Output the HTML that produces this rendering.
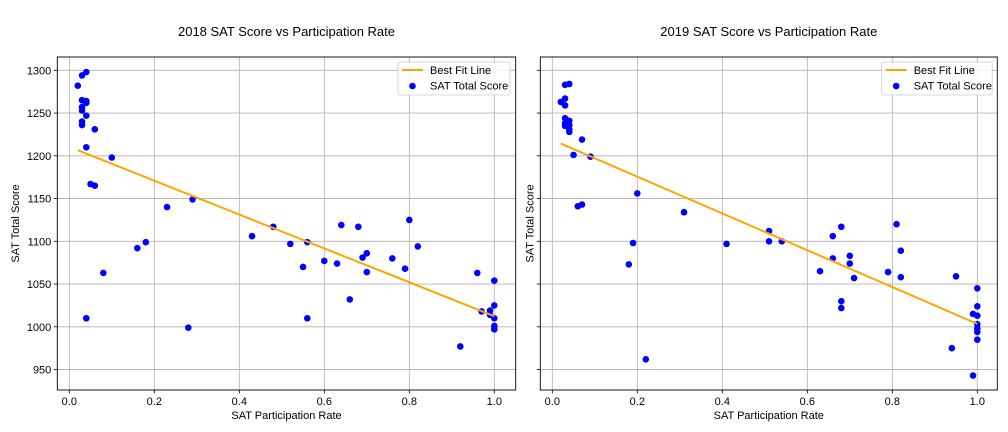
<!DOCTYPE html>
<html><head><meta charset="utf-8"><style>
html,body{margin:0;padding:0;background:#fff;}
svg{display:block;font-family:"Liberation Sans","DejaVu Sans",sans-serif;}
</style></head><body>
<svg id="chart" width="1008" height="432" viewBox="0 0 1008 432" xmlns="http://www.w3.org/2000/svg"></svg>
<script>
const rates2018 = [0.04,0.03,0.02,0.03,0.04,0.04,0.03,0.03,0.04,0.03,0.03,0.06,0.04,0.10,0.05,0.06,0.23,0.29,0.08,0.16,0.18,0.04,0.28,0.43,0.48,0.52,0.56,0.55,0.56,0.60,0.64,0.68,0.63,0.69,0.70,0.70,0.66,0.76,0.79,0.80,0.82,0.92,0.96,0.97,0.99,0.99,1.0,1.0,1.0,1.0,1.0];
const scores2018 = [1298,1294,1282,1265,1264,1262,1257,1253,1247,1240,1236,1231,1210,1198,1167,1165,1140,1149,1063,1092,1099,1010,999,1106,1117,1097,1099,1070,1010,1077,1119,1117,1074,1081,1086,1064,1032,1080,1068,1125,1094,977,1063,1018,1019,1014,1054,1025,1010,1001,997];
const rates2019 = [0.03,0.04,0.02,0.03,0.03,0.03,0.04,0.03,0.03,0.04,0.04,0.04,0.07,0.05,0.09,0.06,0.07,0.20,0.31,0.19,0.18,0.22,0.41,0.51,0.51,0.54,0.63,0.66,0.66,0.68,0.68,0.68,0.70,0.70,0.71,0.79,0.81,0.82,0.82,0.95,0.94,0.99,0.99,1.0,1.0,1.0,1.0,1.0,1.0,1.0];
const scores2019 = [1283,1284,1263,1267,1259,1244,1241,1238,1235,1236,1231,1228,1219,1201,1199,1141,1143,1156,1134,1098,1073,962,1097,1112,1100,1100,1065,1106,1080,1117,1030,1022,1083,1074,1057,1064,1120,1089,1058,1059,975,943,1015,1045,1024,1013,1003,998,994,985];
const xTicks = [0.0,0.2,0.4,0.6,0.8,1.0];
const xTickLabels = ["0.0","0.2","0.4","0.6","0.8","1.0"];
const yTicks = [950,1000,1050,1100,1150,1200,1250,1300];
const titles = ["2018 SAT Score vs Participation Rate","2019 SAT Score vs Participation Rate"];

const NS="http://www.w3.org/2000/svg";
const svg=document.getElementById('chart');
function mk(tag,attrs,parent){const e=document.createElementNS(NS,tag);for(const k in attrs)e.setAttribute(k,attrs[k]);(parent||svg).appendChild(e);return e;}
const yOf=v=>70.3+(1300-v)*0.855;

function panel(idx,left,right,x0,rates,scores,showYLabels,legendX,legendW){
  const g=mk('g',{});
  
  
  const xOf=v=>x0+v*425;
  const top=57,bottom=390;
  xTicks.forEach((t,i)=>{
    const l=mk('line',{x1:xOf(t),x2:xOf(t),y1:top,y2:bottom,stroke:'#b0b0b0','stroke-width':0.8},g);
    
    
    mk('line',{x1:xOf(t),x2:xOf(t),y1:bottom,y2:bottom+3.5,stroke:'#000','stroke-width':0.8},g);
    const tx=mk('text',{x:xOf(t),y:bottom+15,'font-size':11,'text-anchor':'middle',fill:'#000'},g);
    tx.textContent=xTickLabels[i];
    
    
  });
  yTicks.forEach(t=>{
    const l=mk('line',{x1:left,x2:right,y1:yOf(t),y2:yOf(t),stroke:'#b0b0b0','stroke-width':0.8},g);
    
    
    mk('line',{x1:left-3.5,x2:left,y1:yOf(t),y2:yOf(t),stroke:'#000','stroke-width':0.8},g);
    if(showYLabels){
      const tx=mk('text',{x:left-6,y:yOf(t)+4,'font-size':11,'text-anchor':'end',fill:'#000'},g);
      tx.textContent=t;
      
      
    }
  });
  const n=rates.length;let mx=0,my=0;for(let i=0;i<n;i++){mx+=rates[i];my+=scores[i];}mx/=n;my/=n;
  let sxy=0,sxx=0;for(let i=0;i<n;i++){sxy+=(rates[i]-mx)*(scores[i]-my);sxx+=(rates[i]-mx)**2;}
  const b=sxy/sxx,a=my-b*mx;const xmin=Math.min(...rates),xmax=Math.max(...rates);
  for(let i=0;i<n;i++){
    const c=mk('circle',{cx:xOf(rates[i]),cy:yOf(scores[i]),r:3.3,fill:'#0000ff'},g);
    
    
  }
  const fl=mk('line',{x1:xOf(xmin),y1:yOf(a+b*xmin),x2:xOf(xmax),y2:yOf(a+b*xmax),stroke:'#ffa500','stroke-width':2},g);
  
  
  mk('rect',{x:left,y:top,width:right-left,height:bottom-top,fill:'none',stroke:'#000','stroke-width':0.9},g);
  const ti=mk('text',{x:(left+right)/2,y:36,'font-size':13,'text-anchor':'middle',fill:'#000'},g);
  ti.textContent=titles[idx];
  
  
  const xl=mk('text',{x:(left+right)/2,y:419,'font-size':11,'text-anchor':'middle',fill:'#000'},g);
  xl.textContent='SAT Participation Rate';
  
  
  const ylx=showYLabels?19:left-7;
  const yl=mk('text',{x:ylx,y:(top+bottom)/2,'font-size':11,'text-anchor':'middle',fill:'#000',transform:`rotate(-90 ${ylx} ${(top+bottom)/2})`},g);
  yl.textContent='SAT Total Score';
  
  
  const lg=mk('g',{},g);
  
  
  mk('rect',{x:legendX,y:62,width:legendW,height:33,rx:2,fill:'#fff','fill-opacity':0.8,stroke:'#ccc','stroke-width':0.8},lg);
  mk('line',{x1:legendX+4,x2:legendX+25,y1:70,y2:70,stroke:'#ffa500','stroke-width':2},lg);
  const t1=mk('text',{x:legendX+32,y:74,'font-size':11,fill:'#000'},lg);t1.textContent='Best Fit Line';
  
  
  mk('circle',{cx:legendX+14.5,cy:86,r:3.3,fill:'#0000ff'},lg);
  const t2=mk('text',{x:legendX+32,y:89.5,'font-size':11,fill:'#000'},lg);t2.textContent='SAT Total Score';
  
  
}
panel(0,57.3,515.7,69.3,rates2018,scores2018,true,398,112);
panel(1,540.3,997.3,552.3,rates2019,scores2019,false,881.7,110.5);
</script>
</body></html>
